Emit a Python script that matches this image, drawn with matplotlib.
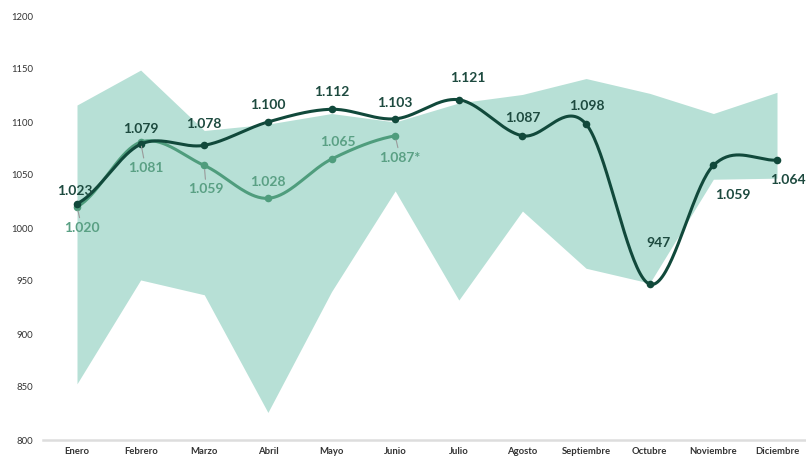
import numpy as np
import matplotlib
matplotlib.use("Agg")
import matplotlib.pyplot as plt

plt.rcParams['font.family'] = ['Lato', 'DejaVu Sans']

months = ["Enero", "Febrero", "Marzo", "Abril", "Mayo", "Junio", "Julio",
          "Agosto", "Septiembre", "Octubre", "Noviembre", "Diciembre"]
band_upper = [1116, 1149, 1092, 1098, 1108, 1100, 1118, 1126, 1141, 1127, 1108, 1128]
band_lower = [853, 951, 937, 826, 940, 1035, 932, 1016, 962, 948, 1046, 1047]
dark_vals = [1023, 1079, 1078, 1100, 1112, 1103, 1121, 1087, 1098, 947, 1059, 1064]
dark_labels = ["1.023", "1.079", "1.078", "1.100", "1.112", "1.103", "1.121",
               "1.087", "1.098", "947", "1.059", "1.064"]
light_vals = [1020, 1081, 1059, 1028, 1065, 1087]
light_labels = ["1.020", "1.081", "1.059", "1.028", "1.065", "1.087*"]
yticks = [800, 850, 900, 950, 1000, 1050, 1100, 1150, 1200]

# label offsets in pixels (dx, dy) relative to point
dark_offsets = [(-2, 13), (0, 15), (0, 21), (0, 17), (0, 17), (0, 16), (9, 22),
                (0, 18), (1, 18), (9, 41), (19, -30), (11, -20)]
light_offsets = [(5, -21), (5, -26), (2, -24), (0, 16), (6, 17), (5, -22)]
light_leader = [True, True, True, False, False, True]

BAND = "#b7e0d6"
DARK = "#11493b"
LIGHT = "#4f9d7d"
DARK_TXT = "#1d4a3f"
LIGHT_TXT = "#5aa084"


def catmull_rom(y, n=40):
    y = np.asarray(y, dtype=float)
    p = np.concatenate([[y[0]], y, [y[-1]]])
    xs, ys = [], []
    for i in range(len(y) - 1):
        p0, p1, p2, p3 = p[i], p[i + 1], p[i + 2], p[i + 3]
        m1 = (p2 - p0) / 2.0
        m2 = (p3 - p1) / 2.0
        t = np.linspace(0, 1, n, endpoint=(i == len(y) - 2))
        h00 = 2 * t**3 - 3 * t**2 + 1
        h10 = t**3 - 2 * t**2 + t
        h01 = -2 * t**3 + 3 * t**2
        h11 = t**3 - t**2
        xs.append(i + t)
        ys.append(h00 * p1 + h10 * m1 + h01 * p2 + h11 * m2)
    return np.concatenate(xs), np.concatenate(ys)


fig = plt.figure(figsize=(8.06, 4.57), dpi=100)
W, H = 806, 457
ax = fig.add_axes([43 / W, 1 - 440 / H, (806 - 43) / W, 424 / H])

x = np.arange(len(months))
ax.fill_between(x, band_lower, band_upper, color=BAND, lw=0, zorder=1)

xd, yd = catmull_rom(dark_vals)
ax.plot(xd, yd, color=DARK, lw=2.2, zorder=4, solid_capstyle='round')
ax.scatter(x, dark_vals, s=30, color=DARK, zorder=5, lw=0)

xl = np.arange(len(light_vals))
xs, ys = catmull_rom(light_vals)
ax.plot(xs, ys, color=LIGHT, lw=2.2, zorder=3)
ax.scatter(xl, light_vals, s=30, color=LIGHT, zorder=3.5, lw=0)

for i, (v, lab) in enumerate(zip(dark_vals, dark_labels)):
    dx, dy = dark_offsets[i]
    ax.annotate(lab, (x[i], v), xytext=(dx, dy), textcoords='offset pixels',
                ha='center', va='center', fontsize=10, fontweight='bold',
                color=DARK_TXT, zorder=6, annotation_clip=False)

for i, (v, lab) in enumerate(zip(light_vals, light_labels)):
    dx, dy = light_offsets[i]
    kw = {}
    if light_leader[i]:
        kw['arrowprops'] = dict(arrowstyle='-', color='#9a9a9a', lw=0.8,
                                shrinkA=1, shrinkB=3)
    ax.annotate(lab, (xl[i], v), xytext=(dx, dy), textcoords='offset pixels',
                ha='center', va='center', fontsize=10, fontweight='bold',
                color=LIGHT_TXT, zorder=6, annotation_clip=False, **kw)

ax.set_xlim(-34 / 63.64, 11 + 29 / 63.64)
ax.set_ylim(800, 1200)
ax.set_yticks(yticks)
ax.set_yticklabels([str(t) for t in yticks])
ax.set_xticks(x)
ax.set_xticklabels(months)
for lbl in ax.get_xticklabels():
    lbl.set_fontweight('bold')
    lbl.set_fontsize(7.3)
ax.tick_params(axis='both', length=0, labelsize=6.8, colors='#333333')
ax.tick_params(axis='y', pad=7)
ax.tick_params(axis='x', pad=5)
for s in ['top', 'right', 'left']:
    ax.spines[s].set_visible(False)
ax.spines['bottom'].set_color('#dddddd')
ax.spines['bottom'].set_linewidth(1.8)
ax.spines['bottom'].set_zorder(0)

fig.savefig("out.png", dpi=100)
